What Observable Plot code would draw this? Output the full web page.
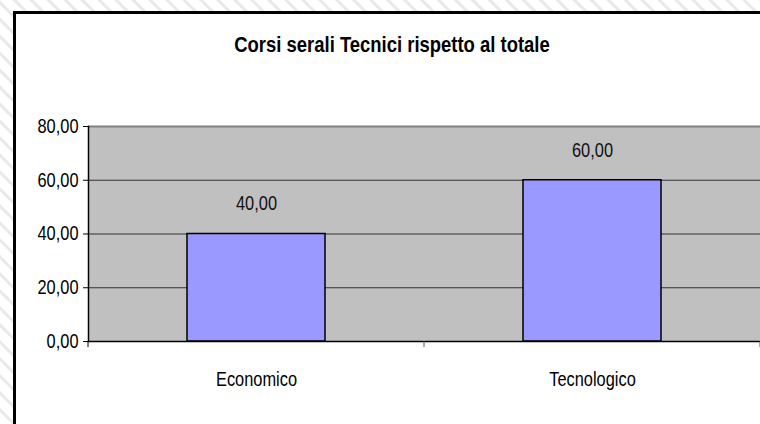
<!DOCTYPE html>
<html>
<head>
<meta charset="utf-8">
<script src="https://cdn.jsdelivr.net/npm/d3@7"></script>
<script src="https://cdn.jsdelivr.net/npm/@observablehq/plot@0.6"></script>
<style>
  html, body { margin: 0; padding: 0; width: 760px; height: 424px; overflow: hidden; }
  body {
    background: repeating-linear-gradient(45deg, #ffffff 0px, #ffffff 8px, #e9e9e9 9px, #e9e9e9 11px, #ffffff 12px);
    position: relative;
    font-family: "Liberation Sans", Arial, sans-serif;
  }
  #frame {
    position: absolute; left: 13px; top: 11px; width: 800px; height: 460px;
    background: #ffffff; border-left: 3px solid #000; border-top: 3px solid #000;
  }
  #title {
    position: absolute; left: 0; width: 784px; top: 34px; text-align: center;
    font-weight: bold; font-size: 22.5px; line-height: 22.5px; color: #000;
    transform: scaleX(0.82); transform-origin: 392px 0;
    white-space: nowrap;
  }
  #chart { position: absolute; left: 0; top: 0; }
  #chart svg { background: transparent; }
</style>
</head>
<body>
<div id="frame"></div>
<div id="title">Corsi serali Tecnici rispetto al totale</div>
<div id="chart"></div>
<script>
const categories = ["Economico", "Tecnologico"];
const values = [40, 60];
const yTicks = [0, 20, 40, 60, 80];
const gridLines = [20, 40, 60];

const data = categories.map((c, i) => ({category: c, value: values[i]}));
const fmt = v => d3.format(".2f")(v).replace(".", ",");
const font = '"Liberation Sans", Arial, sans-serif';

// boundary ticks on the category axis
function bandBoundaryTicks(index, scales, values, dims) {
  const g = d3.create("svg:g");
  const y0 = dims.height - dims.marginBottom;
  const xs = [dims.marginLeft, (dims.marginLeft + dims.width - dims.marginRight) / 2, dims.width - dims.marginRight];
  xs.forEach(x => {
    g.append("line").attr("x1", x).attr("x2", x).attr("y1", y0).attr("y2", y0 + 6)
      .attr("stroke", x === dims.marginLeft ? "#000" : "#555").attr("stroke-width", 1);
  });
  return g.node();
}

const chart = Plot.plot({
  width: 760,
  height: 424,
  marginLeft: 88,
  marginRight: 0,
  marginTop: 126,
  marginBottom: 83,
  style: {background: "transparent", fontFamily: font, fontSize: "20px", color: "#000"},
  x: {domain: categories, paddingInner: 0.59, paddingOuter: 0.295, label: null},
  y: {domain: [0, 80], label: null},
  marks: [
    Plot.frame({fill: "#c0c0c0", stroke: null}),
    Plot.ruleY(gridLines, {stroke: "#333", strokeWidth: 1}),
    Plot.ruleY([80], {stroke: "#808080", strokeWidth: 2}),
    Plot.barY(data, {x: "category", y: "value", fill: "#9999ff", stroke: "#000", strokeWidth: 1.5}),
    Plot.text(data, {x: "category", y: "value", text: d => fmt(d.value), dy: -30, fontSize: 20, fill: "#111"}),
    Plot.axisY({ticks: yTicks, tickFormat: fmt, tickSize: 5, tickPadding: 5, fontSize: 20, stroke: "#000"}),
    Plot.axisX({tickSize: 0, tickPadding: 30, fontSize: 20}),
    Plot.frame({anchor: "left", stroke: "#000", strokeWidth: 1.5}),
    Plot.ruleY([0], {stroke: "#000", strokeWidth: 1.5}),
    bandBoundaryTicks
  ]
});

// emulate a narrow (Arial Narrow-like) face by condensing each text horizontally
chart.querySelectorAll("text").forEach(t => {
  const x = +(t.getAttribute("x") || 0);
  t.removeAttribute("x");
  const tr = t.getAttribute("transform") || "";
  t.setAttribute("transform", `${tr} translate(${x},0) scale(0.82,1)`.trim());
});

document.getElementById("chart").appendChild(chart);
</script>
</body>
</html>
